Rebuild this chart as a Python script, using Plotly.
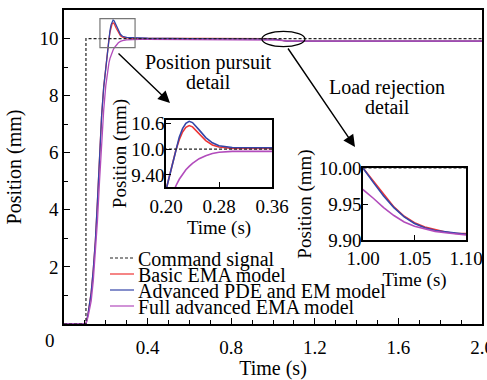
import plotly.graph_objects as go

# ---------------- data ----------------
t = [0.0, 0.105, 0.115, 0.13, 0.14, 0.15, 0.16, 0.17, 0.18, 0.19, 0.20, 0.21, 0.215,
     0.22, 0.225, 0.23, 0.235, 0.24, 0.25, 0.26, 0.27, 0.28, 0.30, 0.33, 0.36, 0.40,
     0.60, 1.00, 1.01, 1.02, 1.03, 1.04, 1.05, 1.06, 1.07, 1.08, 1.09, 1.10, 1.30, 2.00]

basic_ema = [0.0, 0.0, 0.35, 1.1, 1.9, 2.9, 4.3, 5.9, 7.3, 8.3, 9.05, 9.7, 9.98,
             10.22, 10.40, 10.51, 10.55, 10.52, 10.36, 10.20, 10.10, 10.05, 10.02, 10.01, 10.01, 10.0,
             10.0, 10.0, 9.982, 9.963, 9.946, 9.933, 9.924, 9.918, 9.914, 9.911, 9.909, 9.908, 9.908, 9.908]

adv_pde_em = [0.0, 0.0, 0.35, 1.1, 1.9, 2.9, 4.3, 5.9, 7.3, 8.3, 9.05, 9.7, 10.0,
              10.28, 10.48, 10.60, 10.65, 10.62, 10.45, 10.27, 10.15, 10.08, 10.04, 10.03, 10.02, 10.01,
              10.0, 10.0, 9.980, 9.961, 9.945, 9.932, 9.923, 9.917, 9.913, 9.911, 9.909, 9.908, 9.908, 9.908]

full_adv = [0.0, 0.0, 0.25, 0.8, 1.5, 2.4, 3.6, 5.0, 6.4, 7.5, 8.35, 8.95, 9.15,
            9.30, 9.42, 9.52, 9.60, 9.67, 9.78, 9.85, 9.90, 9.93, 9.95, 9.965, 9.97, 9.97,
            9.97, 9.970, 9.958, 9.945, 9.934, 9.925, 9.919, 9.915, 9.912, 9.910, 9.908, 9.907, 9.907, 9.907]

cmd_t = [0.0, 0.105, 0.105, 2.0]
cmd_y = [0.0, 0.0, 10.0, 10.0]

main_xticks = [0.4, 0.8, 1.2, 1.6, 2.0]
main_xticktext = ["0.4", "0.8", "1.2", "1.6", "2.0"]
main_yticks = [2, 4, 6, 8, 10]
in1_xticks = [0.20, 0.28, 0.36]
in1_yticks = [9.4, 10.0, 10.6]
in1_yticktext = ["9.40", "10.0", "10.6"]
in2_xticks = [1.00, 1.05, 1.10]
in2_yticks = [9.90, 9.95, 10.00]

names = ["Basic EMA model", "Advanced PDE and EM model", "Full advanced EMA model"]
colors = ["#ee3535", "#3445a8", "#b24cbc"]
series = [basic_ema, adv_pde_em, full_adv]

FONT = "'Liberation Serif', 'Times New Roman', 'DejaVu Serif', serif"
W, H = 487, 380
ML, MR, MT, MB = 64, 5, 10, 56
PW, PH = W - ML - MR, H - MT - MB


def px(xp):
    return (xp - ML) / PW


def py(yp):
    return (H - MB - yp) / PH


fig = go.Figure()
axes = [("x", "y", 1.3), ("x2", "y2", 1.6), ("x3", "y3", 1.6)]
for xa, ya, lw in axes:
    for s, c, n in zip(series, colors, names):
        fig.add_trace(go.Scatter(x=t, y=s, mode="lines", name=n, xaxis=xa, yaxis=ya,
                                 line=dict(color=c, width=lw), showlegend=False))
    fig.add_trace(go.Scatter(x=cmd_t, y=cmd_y, mode="lines", name="Command signal",
                             xaxis=xa, yaxis=ya, showlegend=False,
                             line=dict(color="#222222", width=1.2, dash="3px,2px")))

tickfont = dict(family=FONT, size=19, color="black")
common = dict(showline=True, linecolor="black", mirror=True, showgrid=False, zeroline=False,
              ticks="inside", tickcolor="black", tickfont=tickfont, automargin=False)

fig.update_layout(
    width=W, height=H, margin=dict(l=ML, r=MR, t=MT, b=MB, autoexpand=False),
    paper_bgcolor="white", plot_bgcolor="white", showlegend=False,
    font=dict(family=FONT),
    xaxis=dict(common, range=[0, 2.0], tickvals=main_xticks, ticktext=main_xticktext,
               ticklen=6, tickwidth=1.3, linewidth=1.6, ticklabelstandoff=5,
               ticklabeloverflow="allow",
               minor=dict(ticks="inside", dtick=0.1, tick0=0, ticklen=4, tickcolor="black", tickwidth=1.2),
               title=dict(text="Time (s)", font=dict(family=FONT, size=20, color="black"), standoff=12)),
    yaxis=dict(common, range=[0, 11], tickvals=main_yticks, ticklen=6, tickwidth=1.3,
               linewidth=1.6, ticklabelstandoff=0,
               minor=dict(ticks="inside", dtick=1, tick0=0, ticklen=4, tickcolor="black", tickwidth=1.2),
               title=dict(text="Position (mm)", font=dict(family=FONT, size=20, color="black"), standoff=12)),
    xaxis2=dict(common, domain=[px(166), px(272)], anchor="y2", range=[0.20, 0.36],
                tickvals=in1_xticks, ticktext=["0.20", "0.28", "0.36"], ticklen=5, linewidth=1.5,
                ticklabelstandoff=1, ticklabeloverflow="allow",
                title=dict(text="Time (s)", font=dict(family=FONT, size=19, color="black"), standoff=2)),
    yaxis2=dict(common, domain=[py(187), py(120)], anchor="x2", range=[9.12, 10.68],
                tickvals=in1_yticks, ticktext=in1_yticktext, ticklen=5, linewidth=1.5,
                ticklabelstandoff=-4, ticklabeloverflow="allow",
                title=dict(text="Position (mm)", font=dict(family=FONT, size=19, color="black"), standoff=0)),
    xaxis3=dict(common, domain=[px(363), px(466)], anchor="y3", range=[1.0, 1.1],
                tickvals=in2_xticks, ticktext=["1.00", "1.05", "1.10"], ticklen=5, linewidth=1.5,
                ticklabelstandoff=0, ticklabeloverflow="allow",
                title=dict(text="Time (s)", font=dict(family=FONT, size=19, color="black"), standoff=2)),
    yaxis3=dict(common, domain=[py(240), py(168)], anchor="x3", range=[9.90, 10.00],
                tickvals=in2_yticks, ticktext=["9.90", "9.95", "10.00"], ticklen=5, linewidth=1.5,
                ticklabelstandoff=-4, ticklabeloverflow="allow",
                title=dict(text="Position (mm)", font=dict(family=FONT, size=19, color="black"), standoff=2)),
)

annots = []
tf = dict(family=FONT, size=20, color="black")
annots.append(dict(text="0", x=px(50), y=py(340), xref="paper", yref="paper", showarrow=False,
                   xanchor="center", yanchor="middle",
                   font=dict(family=FONT, size=19, color="black")))
for txt, xc, yc in [("Position pursuit", 208, 63), ("detail", 208, 82),
                    ("Load rejection", 387, 88), ("detail", 387, 107)]:
    annots.append(dict(text=txt, x=px(xc), y=py(yc), xref="paper", yref="paper",
                       xanchor="center", yanchor="middle", showarrow=False, font=tf))
# arrows
annots.append(dict(x=px(170), y=py(103), xref="paper", yref="paper", ax=-53, ay=-51,
                   showarrow=True, arrowhead=2, arrowsize=1.7, arrowwidth=1.4, arrowcolor="black", text=""))
annots.append(dict(x=px(355), y=py(147), xref="paper", yref="paper", ax=-68, ay=-100,
                   showarrow=True, arrowhead=2, arrowsize=1.7, arrowwidth=1.4, arrowcolor="black", text=""))

# manual legend
leg_names = ["Command signal"] + names
leg_colors = ["#222222"] + colors
leg_dash = ["3px,2px", "solid", "solid", "solid"]
leg_y = [258, 274, 290, 306]
shapes = []
for n, c, d, yy in zip(leg_names, leg_colors, leg_dash, leg_y):
    annots.append(dict(text=n, x=px(136), y=py(yy + 1), xref="paper", yref="paper", xanchor="left",
                       yanchor="middle", showarrow=False, font=tf))
    shapes.append(dict(type="line", xref="paper", yref="paper", x0=px(110), x1=px(134),
                       y0=py(yy), y1=py(yy), line=dict(color=c, width=1.2, dash=d)))

# detail markers
shapes.append(dict(type="rect", xref="x", yref="y", x0=0.172, x1=0.34, y0=9.68, y1=10.7,
                   line=dict(color="#777777", width=1.2)))
shapes.append(dict(type="circle", xref="x", yref="y", x0=0.947, x1=1.153, y0=9.72, y1=10.25,
                   line=dict(color="black", width=1.2)))

fig.update_layout(annotations=annots, shapes=shapes)
fig.write_html("out.html")
